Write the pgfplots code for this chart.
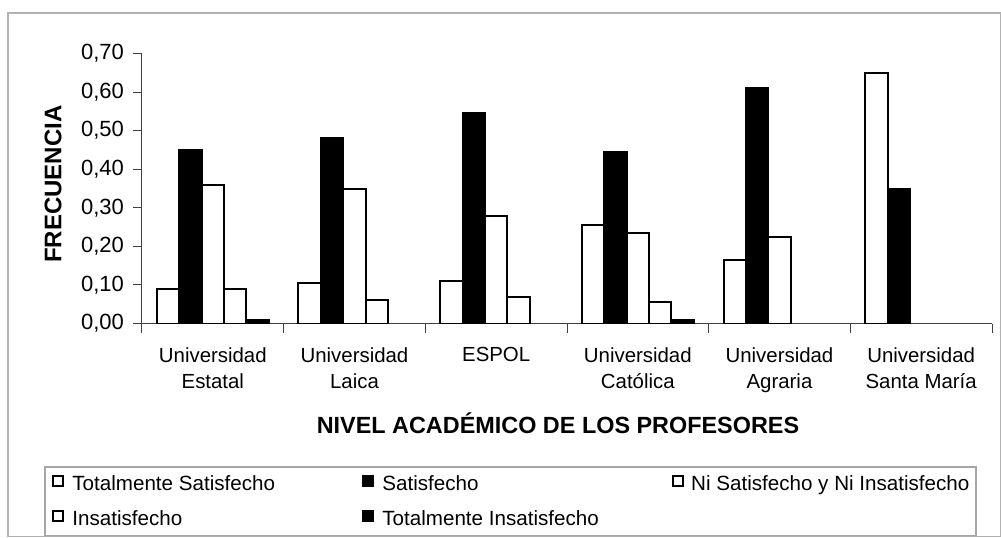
\documentclass[border=0pt]{standalone}
\usepackage{fontspec}
\setmainfont{Liberation Sans}
\usepackage{pgfplots}
\pgfplotsset{compat=1.18}

\begin{document}
\begin{tikzpicture}
\begin{axis}[
    at={(0pt,0pt)}, anchor=south west,
    scale only axis, width=425pt, height=135pt,
    ybar=0pt, bar width=11.2pt,
    xmin=-0.5, xmax=5.5, ymin=0, ymax=0.7,
    axis x line*=bottom, axis y line*=left,
    axis line style={-, draw=black!75, line width=0.5pt},
    tick align=outside,
    major tick length=4.5pt, minor tick length=4.5pt,
    tick style={draw=black!75, line width=0.5pt},
    xtick={0,...,5},
    xticklabels={{Universidad\\Estatal},{Universidad\\Laica},ESPOL,{Universidad\\Católica},{Universidad\\Agraria},{Universidad\\Santa María}},
    major x tick style={draw=none},
    minor xtick={-0.5,0.5,...,5.5},
    xticklabel style={align=center, anchor=north, yshift=-4pt, font=\fontsize{10.2}{13}\selectfont},
    ytick={0,0.1,0.2,0.3,0.4,0.5,0.6,0.7},
    yticklabel style={font=\fontsize{11}{12}\selectfont, xshift=-1pt},
    /pgf/number format/fixed,
    /pgf/number format/fixed zerofill,
    /pgf/number format/precision=2,
    /pgf/number format/use comma,
    /pgf/number format/assume math mode=true,
    xlabel={NIVEL ACADÉMICO DE LOS PROFESORES},
    xlabel style={at={(axis description cs:0.4894,-0.4056)}, anchor=base, font=\bfseries\fontsize{11.7}{14}\selectfont},
    ylabel={FRECUENCIA},
    ylabel style={at={(axis description cs:-0.1047,0.5167)}, anchor=center, font=\bfseries\fontsize{12}{14}\selectfont},
    legend columns=3,
    legend cell align=left,
    legend style={at={(axis description cs:-0.10588,-0.5611)}, anchor=north west,
        draw=none, fill=none, inner sep=0pt, column sep=0pt, row sep=7.5pt,
        nodes={inner sep=0pt, text height=7.5pt, text depth=2pt, font=\fontsize{10.3}{12}\selectfont}},
    legend image code/.code={\draw[#1, line width=1pt] (0.5pt,-0.5pt) rectangle (5.5pt,4.5pt);},
]
% Totalmente Satisfecho
\addplot[fill=white, draw=black, line width=1pt] coordinates {(0,0.09) (1,0.105) (2,0.11) (3,0.255) (4,0.165) (5,0.65)};
\addlegendentry{\makebox[149pt][l]{\hspace{4pt}Totalmente Satisfecho}}
% Satisfecho
\addplot[fill=black, draw=black, line width=1pt] coordinates {(0,0.45) (1,0.48) (2,0.545) (3,0.445) (4,0.61) (5,0.35)};
\addlegendentry{\makebox[149pt][l]{\hspace{4pt}Satisfecho}}
% Ni Satisfecho y Ni Insatisfecho
\addplot[fill=white, draw=black, line width=1pt] coordinates {(0,0.36) (1,0.35) (2,0.28) (3,0.235) (4,0.225)};
\addlegendentry{\makebox[143.5pt][r]{Ni Satisfecho y Ni Insatisfecho\hspace{1pt}}}
% Insatisfecho
\addplot[fill=white, draw=black, line width=1pt] coordinates {(0,0.09) (1,0.06) (2,0.07) (3,0.055)};
\addlegendentry{\makebox[149pt][l]{\hspace{4pt}Insatisfecho}}
% Totalmente Insatisfecho
\addplot[fill=black, draw=black, line width=1pt] coordinates {(0,0.01) (3,0.01)};
\addlegendentry{\makebox[149pt][l]{\hspace{4pt}Totalmente Insatisfecho}}
\end{axis}
% legend frame and chart frame
\draw[gray!70, line width=0.6pt] (-48.5pt,-71.75pt) rectangle (417pt,-106.25pt);
\draw[gray!60, line width=0.6pt] (-67pt,-106.6pt) rectangle (429.2pt,155.25pt);
\pgfresetboundingbox
\path[use as bounding box] (-71pt,-106.75pt) rectangle (429.5pt,161.75pt);
\end{tikzpicture}
\end{document}
